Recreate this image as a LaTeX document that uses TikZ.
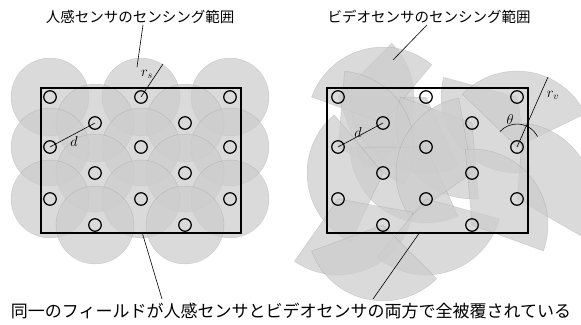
\documentclass[tikz,border=0pt]{standalone}
\usepackage{fontspec}
\newfontfamily\jp{Noto Sans CJK JP}
\definecolor{cov}{RGB}{205,205,205}
\begin{document}
\begin{tikzpicture}[x=1pt,y=1pt,
  cover/.style={fill=cov, fill opacity=0.75, draw=black, draw opacity=0.1, line width=0.5pt},
  sensor/.style={circle, draw, line width=1.2pt, minimum size=12.5pt, inner sep=0pt},
  field/.style={draw, line width=1.5pt, inner sep=0pt, anchor=north west},
  lead/.style={line width=0.6pt},
  jptop/.style={font=\jp\fontsize{14.5}{15}\selectfont, inner sep=1pt},
  jpbot/.style={font=\jp\fontsize{17}{18}\selectfont, inner sep=1pt},
  mlab/.style={font=\fontsize{14}{14}\selectfont, inner sep=0pt}]
\useasboundingbox (0,0) rectangle (581,-324);

% ---------- left panel: circular coverage ----------
\foreach \x/\y in {50/97,141/97,230/97,95/123,185/123,50/147,141/147,230/147,
                   95/173,185/173,50/199,141/199,230/199,95/225,185/225}
  \filldraw[cover] (\x,-\y) circle[radius=39];

% ---------- right panel: sector coverage ----------
\foreach \x/\y/\a/\b in {338/97/-70/45, 426/97/180/295, 517/97/165/280,
                         383/123/50/160, 472/123/160/275,
                         338/147/-30/85, 426/147/180/295, 517/147/26/136,
                         383/173/130/245, 472/173/100/215,
                         338/199/235/350, 426/199/230/345, 517/199/-30/85,
                         383/225/200/315, 472/225/-20/95}
  \filldraw[cover] (\x,-\y) -- ++(\a:76) arc[start angle=\a, end angle=\b, radius=76] -- cycle;

% ---------- fields ----------
\node[field, minimum width=200pt, minimum height=145pt] (fieldL) at (40,-87) {};
\node[field, minimum width=201pt, minimum height=145pt] (fieldR) at (326,-87) {};

% ---------- sensors ----------
\foreach \x/\y/\n in {50/97/1,141/97/2,230/97/3,95/123/4,185/123/5,50/147/6,141/147/7,230/147/8,
                      95/173/9,185/173/10,50/199/11,141/199/12,230/199/13,95/225/14,185/225/15}
  \node[sensor] (L\n) at (\x,-\y) {};
\foreach \x/\y/\n in {338/97/1,426/97/2,517/97/3,383/123/4,472/123/5,338/147/6,426/147/7,517/147/8,
                      383/173/9,472/173/10,338/199/11,426/199/12,517/199/13,383/225/14,472/225/15}
  \node[sensor] (R\n) at (\x,-\y) {};

% ---------- labels ----------
\node[jptop] (lblL) at (140,-17) {人感センサのセンシング範囲};
\node[jptop] (lblR) at (429,-17) {ビデオセンサのセンシング範囲};
\node[jpbot] (lblB) at (291,-311) {同一のフィールドが人感センサとビデオセンサの両方で全被覆されている};

\coordinate (tL) at (137,-67);
\coordinate (tR) at (393,-60);
\draw[lead] ([xshift=3pt]lblL.south) -- (tL);
\draw[lead] ([xshift=-2pt]lblR.south) -- (tR);

\coordinate (bL) at (142,-232);
\coordinate (bR) at (420,-232);
\coordinate (bLe) at (162,-299);
\coordinate (bRe) at (373,-299);
\draw[lead] (bL) -- (bLe);
\draw[lead] (bR) -- (bRe);

% r_s and d (left)
\coordinate (rsEnd) at (163,-64);
\draw[lead] (L2.center) -- (rsEnd);
\node[mlab] (rs) at (147,-74) {$r_s$};
\draw[lead] (L6.center) -- (L4.center);
\node[mlab] (dL) at (74,-141) {$d$};

% d, r_v and theta (right)
\draw[lead] (R6.center) -- (R4.center);
\node[mlab] (dR) at (358,-132) {$d$};
\coordinate (rvEnd) at (548,-77);
\draw[lead] (R8.center) -- (rvEnd);
\node[mlab] (rv) at (553,-95) {$r_v$};
\draw[lead] ([shift={(27:23)}]R8.center) arc[start angle=27, end angle=138, radius=23];
\node[mlab] (th) at (510,-119) {$\theta$};
\end{tikzpicture}
\end{document}
